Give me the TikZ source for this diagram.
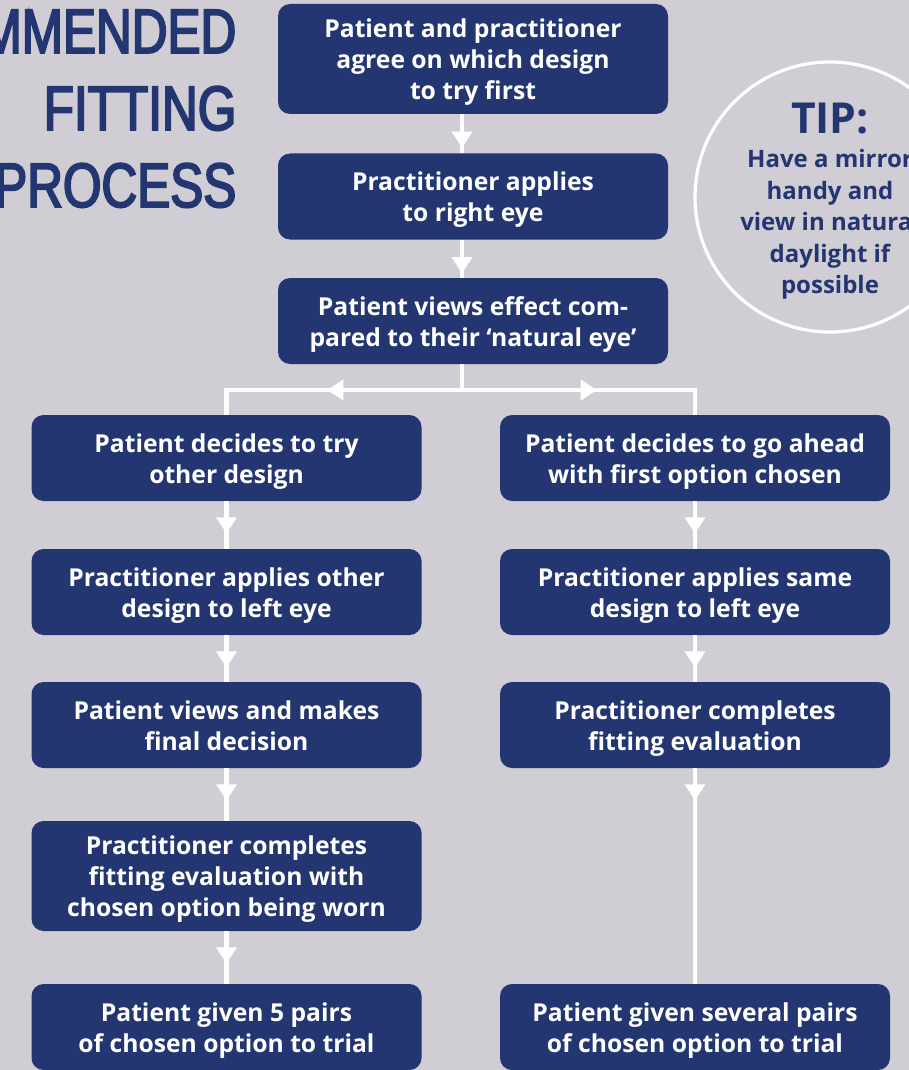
\documentclass[tikz,border=0pt]{standalone}
\usepackage{fontspec}
\usetikzlibrary{decorations.markings}
\setmainfont{Open Sans}
\newfontfamily\condfont[FakeStretch=0.79,FakeBold=3]{Liberation Sans}

\definecolor{pagegrey}{RGB}{208,206,212}
\definecolor{navy}{RGB}{35,54,113}

\tikzset{
  stepbox/.style={fill=navy, rounded corners=9pt, text=white, align=center,
    font=\bfseries\fontsize{18.5}{23.25}\selectfont,
    text height=42.3pt, text depth=4.5pt,
    minimum width=292.5pt, minimum height=64.5pt, inner sep=0pt},
  tallbox/.style={stepbox, text height=65.55pt, minimum height=82.5pt},
  headline/.style={anchor=base east, text=navy, font=\condfont\fontsize{47}{56}\selectfont},
  flow/.style={draw=white, line width=3.2pt},
  % white triangle whose tip sits #1 along the line
  tipat/.style={postaction={decorate, decoration={markings,
    mark=at position #1 with {\fill[white] (0,0) -- (-12pt,7.9pt) -- (-12pt,-7.9pt) -- cycle;}}}},
}

\begin{document}
\begin{tikzpicture}[x=0.75pt,y=-0.75pt]
    % page
    \fill[pagegrey] (0,0) rectangle (909,1070);
    \useasboundingbox (0,0) rectangle (909,1070);

    % Heading
    \node[headline] (head1) at (241,53) {RECOMMENDED};
    \node[headline] (head2) at (241,130) {FITTING};
    \node[headline] (head3) at (241,207) {PROCESS};

    % Tip circle
    \draw[white, line width=2.4pt] (830,197) circle (135);
    \node[text=navy, font=\bfseries\fontsize{32}{36}\selectfont] (tiphead) at (830,119) {TIP:};
    \node[anchor=north, text=navy, align=center, font=\bfseries\fontsize{18}{23.6}\selectfont] (tipbody) at (830,145)
      {Have a mirror\\handy and\\view in natural\\daylight if\\possible};

    % Centre column
    \node[tallbox] (agree) at (473,59) {Patient and practitioner\\agree on which design\\to try first};
    \node[stepbox] (right) at (473,196.5) {Practitioner applies\\to right eye};
    \node[stepbox] (views) at (473,321) {Patient views effect com-\\pared to their `natural eye'};

    % Left column
    \node[stepbox] (other) at (226.5,458) {Patient decides to try\\other design};
    \node[stepbox] (leftother) at (226.5,592) {Practitioner applies other\\design to left eye};
    \node[stepbox] (final) at (226.5,725) {Patient views and makes\\final decision};
    \node[tallbox] (evalworn) at (226.5,876) {Practitioner completes\\fitting evaluation with\\chosen option being worn};
    \node[stepbox] (five) at (226.5,1027) {Patient given 5 pairs\\of chosen option to trial};

    % Right column
    \node[stepbox] (ahead) at (695,458) {Patient decides to go ahead\\with first option chosen};
    \node[stepbox] (leftsame) at (695,592) {Practitioner applies same\\design to left eye};
    \node[stepbox] (evalfit) at (695,725) {Practitioner completes\\fitting evaluation};
    \node[stepbox] (several) at (695,1027) {Patient given several pairs\\of chosen option to trial};

    % Connectors
    \coordinate (split) at (462,390);
    \draw[flow, tipat=25pt] (agree.south -| split) -- (right.north -| split);
    \draw[flow, tipat=25pt] (right.south -| split) -- (views.north -| split);
    \draw[flow] (views.south -| split) -- (split);
    \draw[flow, tipat=101pt] (split) -| (other.north);
    \draw[flow, tipat=101pt] (split) -| (ahead.north);

    \draw[flow, tipat=24pt] (other) -- (leftother);
    \draw[flow, tipat=24pt] (leftother) -- (final);
    \draw[flow, tipat=24pt] (final) -- (evalworn);
    \draw[flow, tipat=24pt] (evalworn) -- (five);

    \draw[flow, tipat=24pt] (ahead) -- (leftsame);
    \draw[flow, tipat=24pt] (leftsame) -- (evalfit);
    \draw[flow, tipat=24pt] (evalfit) -- (several);
\end{tikzpicture}
\end{document}
